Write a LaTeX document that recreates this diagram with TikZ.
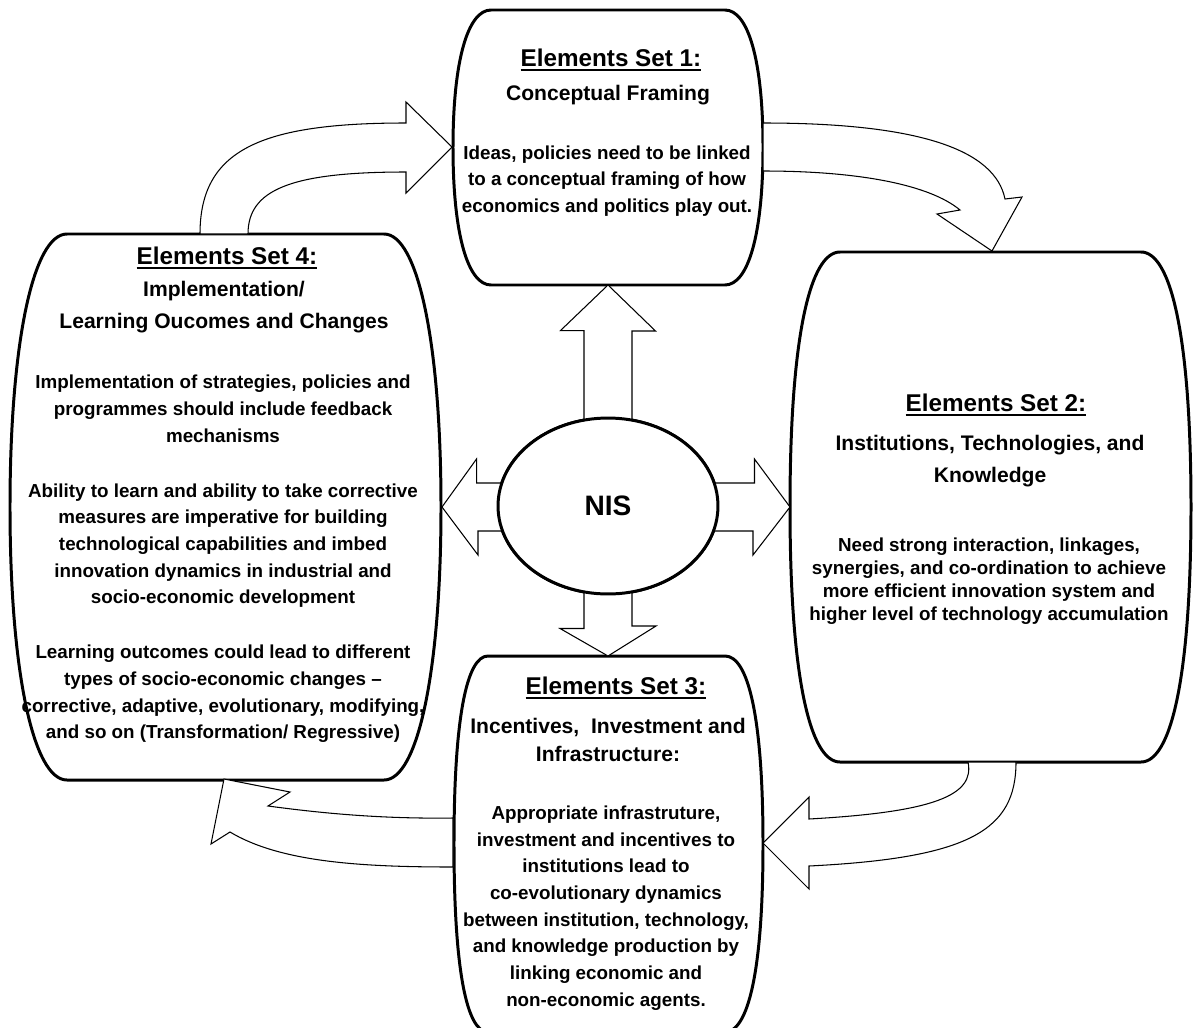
\documentclass[tikz,border=0pt]{standalone}
\usepackage{fontspec}
\setmainfont{Liberation Sans}
\usetikzlibrary{shapes.geometric,calc}
\newcommand{\setline}[1]{\setbox0=\hbox{#1}\rlap{\rule[-2.4pt]{\wd0}{1.1pt}}\box0}

\begin{document}
\begin{tikzpicture}[x=0.02cm,y=-0.02cm,box line/.style={line width=1.7pt,line join=round},block arrow/.style={draw,fill=white,line width=0.6pt,line join=miter},nis node/.style={ellipse,draw,fill=white,line width=1.7pt,minimum width=4.4cm,minimum height=3.52cm,inner sep=0pt,font=\fontsize{16}{19}\selectfont\bfseries},title/.style={inner sep=0pt,font=\fontsize{13.8}{16}\selectfont\bfseries},head/.style={inner sep=0pt,align=center,font=\fontsize{12}{18}\selectfont\bfseries},body/.style={inner sep=0pt,align=center,font=\fontsize{10.7}{15.2}\selectfont\bfseries}]

                \useasboundingbox (0,0) rectangle (1194,1028);

                \draw [box line] (491,10) -- (725,10) .. controls (748,10) and (763,60) .. (763,147.5) .. controls (763,235) and (748,285) .. (725,285) -- (491,285) .. controls (468,285) and (453,235) .. (453,147.5) .. controls (453,60) and (468,10) .. cycle;
                \draw [box line] (840,252) -- (1141,252) .. controls (1171,252) and (1191,337) .. (1191,507) .. controls (1191,677) and (1171,762) .. (1141,762) -- (840,762) .. controls (810,762) and (790,677) .. (790,507) .. controls (790,337) and (810,252) .. cycle;
                \draw [box line] (488,656) -- (725,656) .. controls (748,656) and (763,716) .. (763,844) .. controls (763,972) and (748,1032) .. (725,1032) -- (488,1032) .. controls (467,1032) and (454,972) .. (454,844) .. controls (454,716) and (467,656) .. cycle;
                \draw [box line] (67,234) -- (384,234) .. controls (418,234) and (441,344) .. (441,507) .. controls (441,670) and (418,780) .. (384,780) -- (67,780) .. controls (33,780) and (10,670) .. (10,507) .. controls (10,344) and (33,234) .. cycle;

                \node (1) [title] at (611,60) {\setline{Elements Set 1:}};
                \node (2) [head] at (608,95) {Conceptual Framing};
                \node (3) [body] at (607,181) {Ideas, policies need to be linked\\to a conceptual framing of how\\economics and politics play out.};

                \node (4) [title] at (996,405) {\setline{Elements Set 2:}};
                \node (5) [head] at (990,461) {Institutions, Technologies, and\\Knowledge};
                \node (6) [body,font=\fontsize{10.7}{13}\selectfont\bfseries] at (989,581) {Need strong interaction, linkages,\\synergies, and co-ordination to achieve\\more efficient innovation system and\\higher level of technology accumulation};

                \node (7) [title] at (616,688) {\setline{Elements Set 3:}};
                \node (8) [head] at (608,740) {Incentives,\ \ Investment and\\[-2pt]Infrastructure:};
                \node (9) [body] at (606,908) {Appropriate infrastruture,\\investment and incentives to\\institutions lead to\\co-evolutionary dynamics\\between institution, technology,\\and knowledge production by\\linking economic and\\non-economic agents.};

                \node (10) [title] at (227,258) {\setline{Elements Set 4:}};
                \node (11) [head] at (224,307) {Implementation/\\Learning Oucomes and Changes};
                \node (12) [body] at (223,559) {Implementation of strategies, policies and\\programmes should include feedback\\mechanisms\\[16pt]Ability to learn and ability to take corrective\\measures are imperative for building\\technological capabilities and imbed\\innovation dynamics in industrial and\\socio-economic development\\[16pt]Learning outcomes could lead to different\\types of socio-economic changes --\\corrective, adaptive, evolutionary, modifying,\\and so on (Transformation/ Regressive)};

                \node (13) [nis node] at (608,506) {};

                \coordinate (c1) at (608,285);
                \coordinate (c2) at (790,507);
                \coordinate (c3) at (608,656);
                \coordinate (c4) at (442,507);
                \coordinate (c5) at (452,147);
                \coordinate (c6) at (992,251);
                \coordinate (c7) at (763,843);
                \coordinate (c8) at (224,779);

                \draw [block arrow] ($(13.north)+(-24,8)$) -- ++(0,-94) -- ++(-23.5,0) -- (c1) -- ++(47.5,46) -- ++(-23.5,0) -- ++(0,94) -- cycle;
                \draw [block arrow] ($(13.south)+(-24,-8)$) -- ++(0,41) -- ++(-24,0) -- (c3) -- ++(48,-30) -- ++(-24,0) -- ++(0,-41) -- cycle;
                \draw [block arrow] ($(13.east)+(-8,-23)$) -- ++(43,0) -- ++(0,-24) -- (c2) -- ++(-37,48) -- ++(0,-24) -- ++(-43,0) -- cycle;
                \draw [block arrow] ($(13.west)+(8,-23)$) -- ++(-28,0) -- ++(0,-24) -- (c4) -- ++(36,48) -- ++(0,-24) -- ++(28,0) -- cycle;

                \node (13) [nis node] at (608,506) {NIS};

                \draw [block arrow] (200,234) .. controls (200,150) and (260,123) .. (406,123) -- (406,102) -- (c5) -- (406,193) -- (406,172) .. controls (290,172) and (248,190) .. (248,234) -- cycle;
                \draw [block arrow] (763,123) .. controls (920,123) and (995,150) .. (1005,199) -- (1022,197) -- (c6) -- (937,214) -- (960,210) .. controls (930,185) and (860,171) .. (763,171) -- cycle;
                \draw [block arrow] (1016,762) .. controls (1016,830) and (970,858) .. (809,866) -- (809,889) -- (c7) -- (809,797) -- (809,819) .. controls (935,812) and (975,795) .. (968,762) -- cycle;
                \draw [block arrow] (453,818) .. controls (380,819) and (320,813) .. (268,806) -- (290,792) -- (c8) -- (211,844) -- (230,832) .. controls (280,862) and (360,867) .. (453,867) -- cycle;

\end{tikzpicture}
\end{document}
